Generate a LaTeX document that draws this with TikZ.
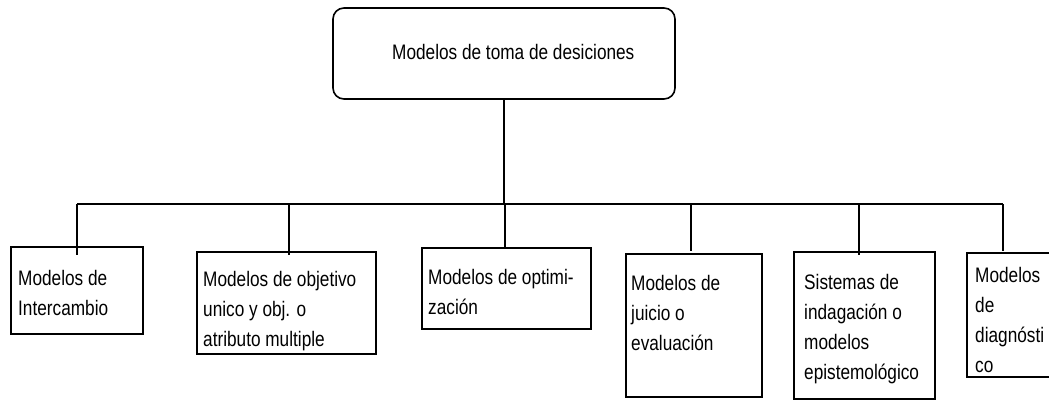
\documentclass[tikz,border=0pt]{standalone}
\usepackage{fontspec}
\setmainfont[FakeStretch=0.82]{Liberation Sans}
\usetikzlibrary{calc}
\tikzset{
  x=1pt, y=-1pt,
  conn/.style={draw=black, line width=1.6pt},
  boxnode/.style={draw=black, line width=1.6pt, rectangle, inner sep=0pt, outer sep=0pt, anchor=north west},
  topbox/.style={boxnode, rounded corners=11pt},
  txt/.style={anchor=base west, inner sep=0pt, font=\fontsize{21}{30}\selectfont, text=black}
}
\begin{document}
\begin{tikzpicture}
\useasboundingbox (0,0) rectangle (1049,402);
% top box
\node[topbox, minimum width=342pt, minimum height=91pt] (top) at (333,8) {};
\node[txt] (ttop) at (392,59) {Modelos de toma de desiciones};
% child boxes
\node[boxnode, minimum width=132pt, minimum height=87pt] (b1) at (11,247) {};
\node[boxnode, minimum width=179pt, minimum height=102pt] (b2) at (197,252) {};
\node[boxnode, minimum width=169pt, minimum height=81pt] (b3) at (422,248) {};
\node[boxnode, minimum width=136pt, minimum height=143pt] (b4) at (626,254) {};
\node[boxnode, minimum width=141pt, minimum height=147pt] (b5) at (794,252) {};
\node[boxnode, minimum width=95pt, minimum height=124pt] (b6) at (967,253) {};
% texts
\node[txt] (t1) at (18,285) {\vtop{\hbox{Modelos de}\hbox{Intercambio}}};
\node[txt] (t2) at (203,286) {\vtop{\hbox{Modelos de objetivo}\hbox{unico y obj. o}\hbox{atributo multiple}}};
\node[txt] (t3) at (428,284) {\vtop{\hbox{Modelos de optimi-}\hbox{zación}}};
\node[txt] (t4) at (631,290) {\vtop{\hbox{Modelos de}\hbox{juicio o}\hbox{evaluación}}};
\node[txt] (t5) at (804,289) {\vtop{\hbox{Sistemas de}\hbox{indagación o}\hbox{modelos}\hbox{epistemológico}}};
\node[txt] (t6) at (975,282) {\vtop{\hbox{Modelos}\hbox{de}\hbox{diagnósti}\hbox{co}}};
% connectors
\coordinate (d1) at (77,204);
\coordinate (d2) at (289,204);
\coordinate (d3) at (505,204);
\coordinate (d4) at (691,204);
\coordinate (d5) at (859,204);
\coordinate (d6) at (1003,204);
\draw[conn] (top.south) -- (top.south |- d3);
\draw[conn] (d1) -- (d6);
\draw[conn] (d1) -- ($(d1 |- b1.north)+(0,8)$);
\draw[conn] (d2) -- ($(d2 |- b2.north)+(0,3)$);
\draw[conn] (d3) -- ($(d3 |- b3.north)+(0,-1)$);
\draw[conn] (d4) -- ($(d4 |- b4.north)+(0,-3)$);
\draw[conn] (d5) -- ($(d5 |- b5.north)+(0,3)$);
\draw[conn] (d6) -- ($(d6 |- b6.north)+(0,-2)$);
\end{tikzpicture}
\end{document}
